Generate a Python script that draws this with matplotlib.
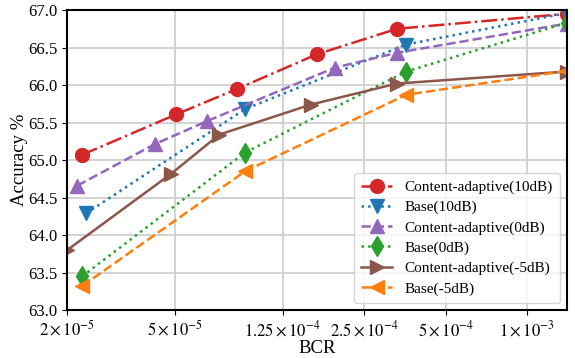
import numpy as np
import matplotlib
matplotlib.use('Agg')
import matplotlib.pyplot as plt

plt.rcParams['font.family'] = ['Liberation Serif', 'DejaVu Serif']
plt.rcParams['mathtext.fontset'] = 'stix'

# data
ca10_x = [2.27e-5, 5.06e-5, 8.5e-5, 1.67e-4, 3.3e-4, 1.4e-3]
ca10_y = [65.07, 65.61, 65.95, 66.41, 66.75, 66.95]
b10_x = [2.35e-5, 9.07e-5, 3.57e-4, 1.4e-3]
b10_y = [64.29, 65.68, 66.54, 66.96]
ca0_x = [2.18e-5, 4.2e-5, 6.57e-5, 1.94e-4, 3.3e-4, 1.4e-3]
ca0_y = [64.66, 65.21, 65.52, 66.23, 66.43, 66.82]
b0_x = [2.27e-5, 9.07e-5, 3.57e-4, 1.4e-3]
b0_y = [63.45, 65.10, 66.18, 66.83]
ca5_x = [2.0e-5, 4.85e-5, 7.29e-5, 1.59e-4, 3.3e-4, 1.4e-3]
ca5_y = [63.80, 64.82, 65.34, 65.74, 66.02, 66.18]
b5_x = [2.27e-5, 9.07e-5, 3.57e-4, 1.4e-3]
b5_y = [63.32, 64.85, 65.87, 66.19]

xticks = [2e-5, 5e-5, 1.25e-4, 2.5e-4, 5e-4, 1e-3]
xtick_labels = [r'$2\times10^{-5}$', r'$5\times10^{-5}$', r'$1.25\times10^{-4}$',
                r'$2.5\times10^{-4}$', r'$5\times10^{-4}$', r'$1\times10^{-3}$']

fig = plt.figure(figsize=(5.75, 3.58), dpi=100)
ax = fig.add_axes([0.117, 0.134, 0.869, 0.838])

ms = 10
lw = 1.8
ax.plot(ca10_x, ca10_y, '-.', color='#d62728', marker='o', ms=ms, lw=lw, label='Content-adaptive(10dB)')
ax.plot(b10_x, b10_y, ':', color='#1f77b4', marker='v', ms=ms, lw=lw, label='Base(10dB)')
ax.plot(ca0_x, ca0_y, '--', color='#9467bd', marker='^', ms=ms, lw=lw, label='Content-adaptive(0dB)')
ax.plot(b0_x, b0_y, ':', color='#2ca02c', marker='d', ms=ms, lw=lw, label='Base(0dB)')
ax.plot(ca5_x, ca5_y, '-', color='#8c564b', marker='>', ms=ms, lw=lw, label='Content-adaptive(-5dB)')
ax.plot(b5_x, b5_y, '--', color='#ff7f0e', marker='<', ms=ms, lw=lw, label='Base(-5dB)')

ax.set_xscale('log')
ax.set_xlim(2e-5, 1.4e-3)
ax.set_ylim(63.0, 67.0)
ax.set_xticks(xticks)
ax.set_xticklabels(xtick_labels)
ax.xaxis.set_minor_locator(matplotlib.ticker.NullLocator())
ax.set_yticks(np.arange(63.0, 67.01, 0.5))
ax.set_yticklabels(['%.1f' % v for v in np.arange(63.0, 67.01, 0.5)])
ax.tick_params(labelsize=12)
ax.grid(True, color='#cccccc', lw=1.2)
ax.set_axisbelow(True)
for s in ax.spines.values():
    s.set_linewidth(1.5)
    s.set_color('black')

ax.set_xlabel('BCR', fontsize=13.5, labelpad=0)
ax.set_ylabel('Accuracy %', fontsize=13.5, labelpad=0)
ax.legend(loc='lower right', fontsize=11, handlelength=2.0, labelspacing=0.42,
          borderpad=0.5, borderaxespad=0.45)

fig.savefig('out.png', dpi=100)
